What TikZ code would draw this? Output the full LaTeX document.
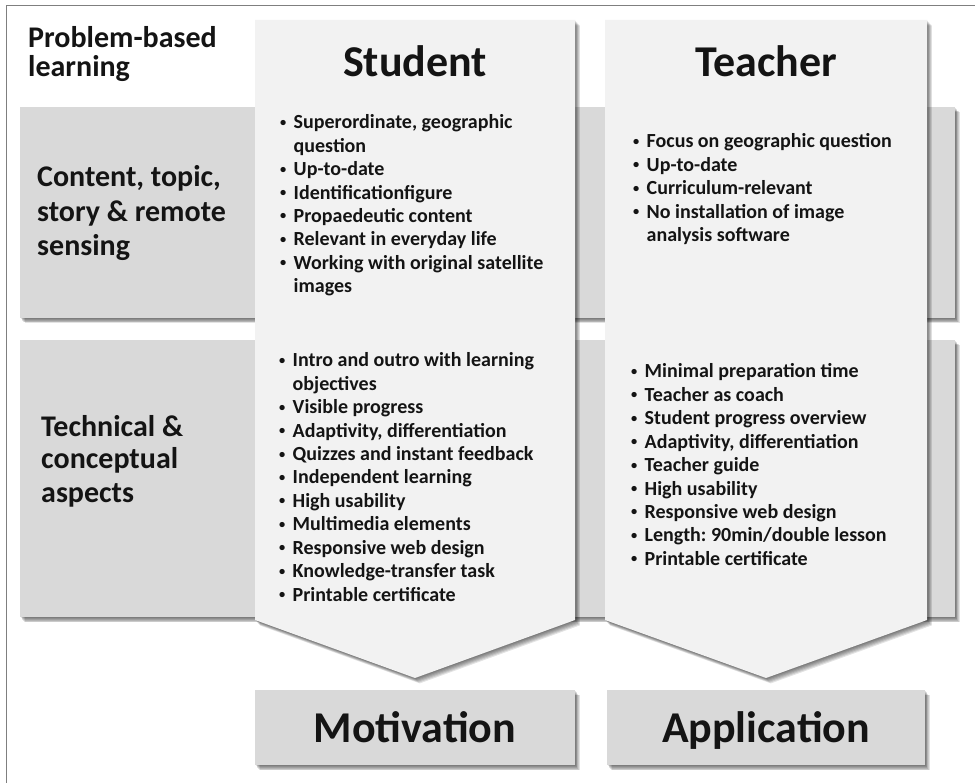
\documentclass[tikz,border=0pt]{standalone}
\usepackage{fontspec}
\setmainfont{Carlito}
\frenchspacing
\definecolor{bandgray}{HTML}{D9D9D9}
\definecolor{colgray}{HTML}{F2F2F2}
\definecolor{ink}{HTML}{141414}
\definecolor{framegray}{HTML}{7F7F7F}
\newcommand\itemdot{\makebox[14.5pt][l]{\hspace{1pt}\raisebox{0.13em}{\scalebox{0.62}{•}}}}
\newcommand\itemcont{\hspace*{14.5pt}}
\begin{document}
\begin{tikzpicture}[x=1pt,y=-1pt,
  band/.style={fill=bandgray},
  column/.style={fill=colgray},
  itemline/.style={anchor=base west,inner sep=0pt,text=ink,
    font=\fontsize{20}{23}\selectfont\bfseries},
  rowlabel/.style={anchor=base west,inner sep=0pt,text=ink,
    font=\fontsize{30}{30}\selectfont\bfseries},
  heading/.style={anchor=base,inner sep=0pt,text=ink,
    font=\fontsize{44}{44}\selectfont\bfseries}]

\useasboundingbox (0,0) rectangle (975,783);
\fill[white] (0,0) rectangle (975,783);

% frame
\draw[framegray,line width=1.3pt] (6.5,783) -- (6.5,5.5) -- (975,5.5);

% soft shadow: stacked translucent copies
\newcommand\softshadow[1]{%
  \foreach \d in {1,...,6}{\fill[black,opacity=0.11,shift={(\d*0.8,\d*0.9)}] #1;}}

% row bands
\softshadow{(20,107) rectangle (955,318)}
\fill[band] (20,107) rectangle (955,318);
\softshadow{(20,340) rectangle (955,617)}
\fill[band] (20,340) rectangle (955,617);

% chevron columns
\softshadow{(255,20) -- (575,20) -- (575,620) -- (415,678) -- (255,620) -- cycle}
\fill[column] (255,20) -- (575,20) -- (575,620) -- (415,678) -- (255,620) -- cycle;
\softshadow{(605,20) -- (927,20) -- (927,620) -- (766,678) -- (605,620) -- cycle}
\fill[column] (605,20) -- (927,20) -- (927,620) -- (766,678) -- (605,620) -- cycle;

% outcome boxes
\softshadow{(255,690) rectangle (575,765)}
\fill[band] (255,690) rectangle (575,765);
\softshadow{(607,690) rectangle (925,765)}
\fill[band] (607,690) rectangle (925,765);

% headings
\node[heading] (student) at (415,77) {Student};
\node[heading] (teacher) at (766,77) {Teacher};
\node[heading] (motivation) at (415,742) {Motivation};
\node[heading] (application) at (766,742) {Application};

% row labels
\node[rowlabel] (pbl1) at (28,47.5) {Problem-based};
\node[rowlabel] (pbl2) at (28,77) {learning};
\node[rowlabel] (cont1) at (37,187) {Content, topic,};
\node[rowlabel] (cont2) at (37,222) {story \& remote};
\node[rowlabel] (cont3) at (37,256) {sensing};
\node[rowlabel] (tech1) at (41,437) {Technical \&};
\node[rowlabel] (tech2) at (41,469) {conceptual};
\node[rowlabel] (tech3) at (41,502) {aspects};

% student, content
\foreach \t [count=\i from 0] in {
  {\itemdot Superordinate, geographic},
  {\itemcont question},
  {\itemdot Up-to-date},
  {\itemdot Identificationfigure},
  {\itemdot Propaedeutic content},
  {\itemdot Relevant in everyday life},
  {\itemdot Working with original satellite},
  {\itemcont images}}
  \node[itemline] (sc-\i) at (279,129+\i*23.4) {\t};

% teacher, content
\foreach \t [count=\i from 0] in {
  {\itemdot Focus on geographic question},
  {\itemdot Up-to-date},
  {\itemdot Curriculum-relevant},
  {\itemdot No installation of image},
  {\itemcont analysis software}}
  \node[itemline] (tc-\i) at (632,148+\i*23.4) {\t};

% student, technical
\foreach \t [count=\i from 0] in {
  {\itemdot Intro and outro with learning},
  {\itemcont objectives},
  {\itemdot Visible progress},
  {\itemdot Adaptivity, differentiation},
  {\itemdot Quizzes and instant feedback},
  {\itemdot Independent learning},
  {\itemdot High usability},
  {\itemdot Multimedia elements},
  {\itemdot Responsive web design},
  {\itemdot Knowledge-transfer task},
  {\itemdot Printable certificate}}
  \node[itemline] (st-\i) at (278,367+\i*23.4) {\t};

% teacher, technical
\foreach \t [count=\i from 0] in {
  {\itemdot Minimal preparation time},
  {\itemdot Teacher as coach},
  {\itemdot Student progress overview},
  {\itemdot Adaptivity, differentiation},
  {\itemdot Teacher guide},
  {\itemdot High usability},
  {\itemdot Responsive web design},
  {\itemdot Length: 90min/double lesson},
  {\itemdot Printable certificate}}
  \node[itemline] (tt-\i) at (630,378+\i*23.4) {\t};

\end{tikzpicture}
\end{document}
